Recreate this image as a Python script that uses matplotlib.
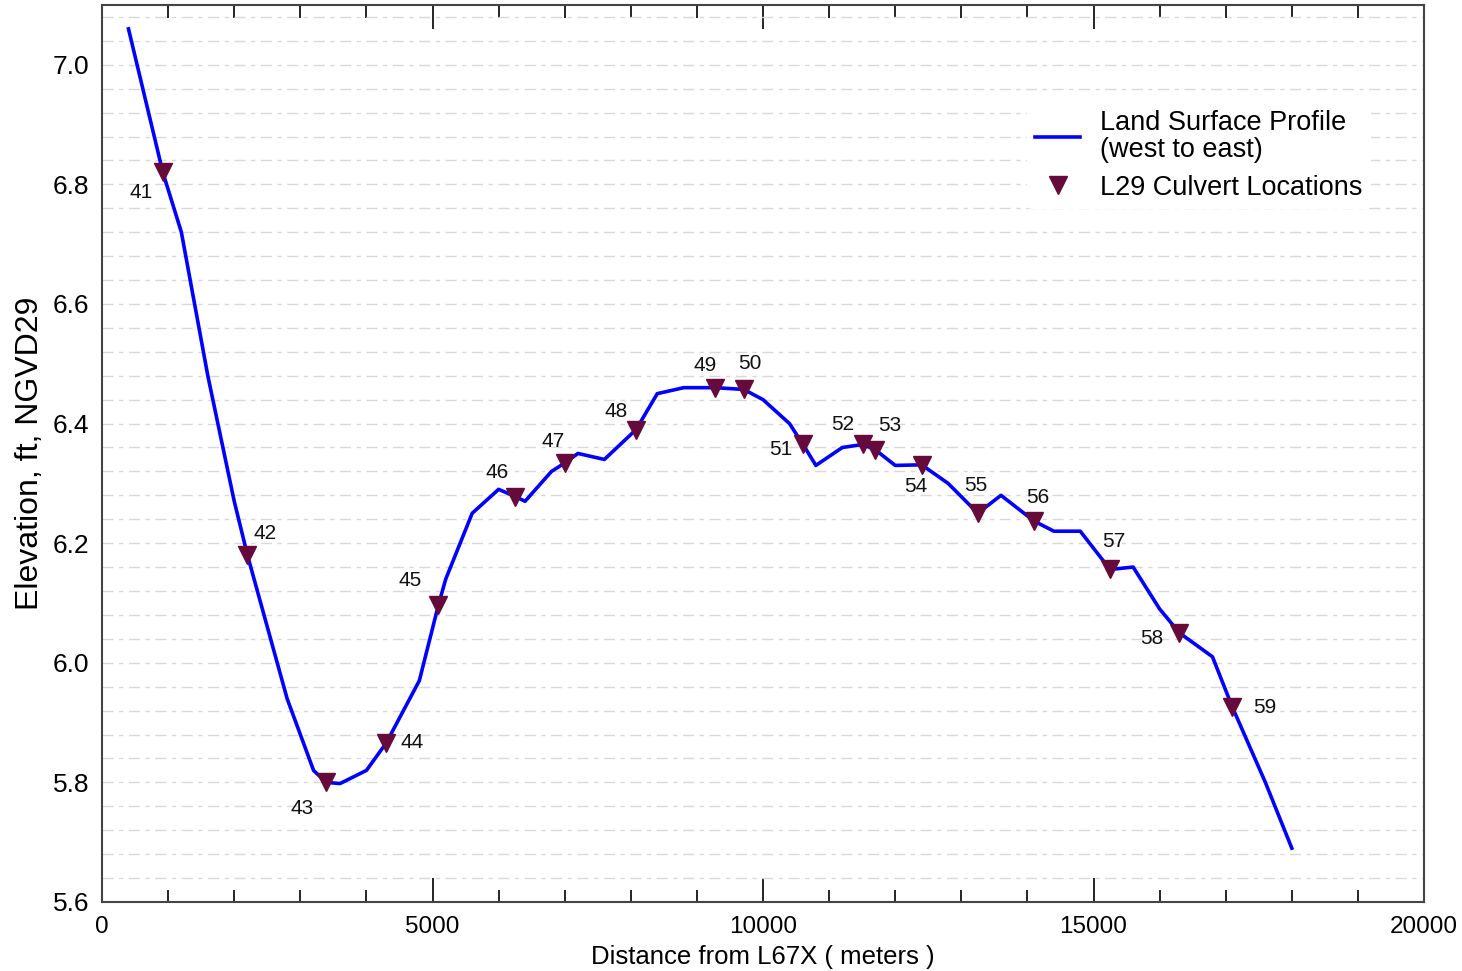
import matplotlib
matplotlib.use("Agg")
import matplotlib.pyplot as plt
from matplotlib.ticker import MultipleLocator, FormatStrFormatter

# land surface profile along L29, west to east
dist_m = [400, 920, 1200, 1600, 2000, 2200, 2800, 3200, 3390, 3600, 4000, 4300, 4800,
          5090, 5200, 5600, 6000, 6250, 6400, 6800, 7000, 7200, 7600, 8080, 8400, 8800,
          9280, 9710, 10000, 10400, 10600, 10800, 11200, 11510, 11700, 12000, 12400,
          12800, 13250, 13600, 14100, 14400, 14800, 15250, 15600, 16000, 16300, 16800,
          17100, 17600, 18000]
elev_ft = [7.06, 6.82, 6.72, 6.48, 6.27, 6.18, 5.94, 5.82, 5.80, 5.798, 5.82, 5.866, 5.97,
           6.097, 6.14, 6.25, 6.29, 6.278, 6.27, 6.32, 6.334, 6.35, 6.34, 6.39, 6.45, 6.46,
           6.46, 6.457, 6.44, 6.40, 6.366, 6.33, 6.36, 6.365, 6.356, 6.33, 6.331,
           6.30, 6.25, 6.28, 6.237, 6.22, 6.22, 6.156, 6.16, 6.09, 6.05, 6.01,
           5.926, 5.80, 5.69]

# culvert stations
culvert_id = list(range(41, 60))
culvert_x = [920, 2200, 3390, 4300, 5090, 6250, 7000, 8080, 9280, 9710, 10600, 11510,
             11700, 12400, 13250, 14100, 15250, 16300, 17100]
culvert_y = [6.82, 6.18, 5.80, 5.866, 6.097, 6.278, 6.334, 6.39, 6.46, 6.457, 6.366, 6.365,
             6.356, 6.331, 6.25, 6.237, 6.156, 6.05, 5.926]
# label offsets (pixels) from each marker
label_dx = [-22, 18, -24, 26, -28, -18, -12, -20, -10, 6, -22, -20, 14, -6, -2, 4, 4, -28, 32]
label_dy = [-20, 22, -26, 0, 24, 24, 22, 18, 22, 26, -6, 20, 24, -22, 28, 24, 28, -6, 0]

plt.rcParams["font.family"] = ["Liberation Sans", "DejaVu Sans"]

fig = plt.figure(figsize=(14.62, 9.71), dpi=100)
ax = fig.add_axes([0.0698, 0.0711, 0.9042, 0.9238])

ax.plot(dist_m, elev_ft, color="#0000ff", lw=2.6, zorder=3,
        label="Land Surface Profile\n(west to east)")
ax.plot(culvert_x, culvert_y, ls="none", marker="v", ms=13, color="#660a3c", zorder=4,
        label="L29 Culvert Locations")
for cid, x, y, dx, dy in zip(culvert_id, culvert_x, culvert_y, label_dx, label_dy):
    ax.annotate(str(cid), (x, y), xytext=(dx, dy), textcoords="offset pixels",
                ha="center", va="center", fontsize=15, color="#111111")

ax.set_xlim(0, 20000); ax.set_ylim(5.6, 7.1)
ax.xaxis.set_major_locator(MultipleLocator(5000)); ax.xaxis.set_minor_locator(MultipleLocator(1000))
ax.yaxis.set_major_locator(MultipleLocator(0.2)); ax.yaxis.set_minor_locator(MultipleLocator(0.04))
ax.yaxis.set_major_formatter(FormatStrFormatter("%.1f"))
ax.tick_params(axis="x", which="both", direction="in", top=True, bottom=True, labelsize=17.5, pad=10)
ax.tick_params(axis="x", which="major", length=17, width=1.2)
ax.tick_params(axis="x", which="minor", length=9, width=1.2)
ax.tick_params(axis="y", which="both", length=0, labelsize=19, pad=9)
ax.grid(True, axis="y", which="both", color="#d9d9d9", lw=1.0, ls=(0, (8, 4, 3, 4)))
ax.set_axisbelow(True)
for s in ax.spines.values():
    s.set_color("#444444"); s.set_linewidth(1.5)

ax.set_xlabel("Distance from L67X ( meters )", fontsize=18.5, labelpad=5)
ax.set_ylabel("Elevation, ft, NGVD29", fontsize=23, labelpad=6)

leg = ax.legend(loc="upper left", bbox_to_anchor=(0.6997, 0.892), borderaxespad=0,
                fontsize=19.5, frameon=True, facecolor="white", edgecolor="none",
                framealpha=1, handlelength=1.67, handletextpad=0.74, labelspacing=0.44,
                borderpad=0.3)
for t in leg.get_texts():
    t.set_linespacing(1.05)

fig.savefig("out.png", dpi=100)
